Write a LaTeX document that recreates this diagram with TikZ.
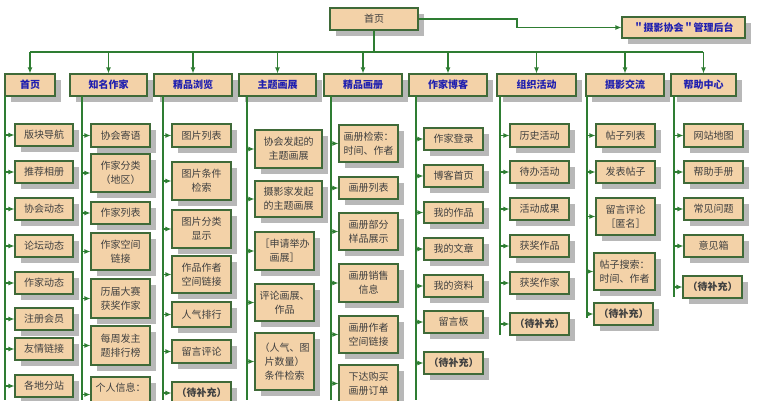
\documentclass[tikz,border=0pt]{standalone}
\usepackage{fontspec}
\setmainfont{Noto Sans CJK SC}
\usetikzlibrary{shadows,arrows.meta}
\definecolor{boxfill}{HTML}{F3D2A8}
\definecolor{boxline}{HTML}{3F6A38}
\definecolor{conn}{HTML}{2E7D32}
\definecolor{headtxt}{HTML}{1F1FB0}
\tikzset{
  kb/.style={draw=boxline,line width=1.1pt,fill=boxfill,align=center,inner sep=1pt,
    font=\fontsize{10}{14}\selectfont,text=black!75,
    drop shadow={shadow xshift=6pt,shadow yshift=-6pt,fill=black!28,opacity=1}},
  hb/.style={kb,font=\fontsize{10}{12}\selectfont\bfseries,text=headtxt},
  arr/.style={draw=conn,line width=1.1pt,-{Latex[length=6pt,width=5pt]}},
  ln/.style={draw=conn,line width=1.1pt}
}
\newcommand\kid[7]{%
  \node[kb,minimum width={(#4-#2)*1pt},minimum height={(#5-#3)*1pt}] (#1) at ({(#2+#4)/2},{(#3+#5)/2}) {#6};
  \coordinate (#1s) at (#7,{(#3+#5)/2});
  \draw[arr] (#1s) -- (#1.west);}
\newcommand\hd[6]{%
  \node[hb,minimum width={(#3-#2)*1pt},minimum height=22pt] (#1) at ({(#2+#3)/2},85) {#4};
  \coordinate (#1b) at ({(#2+#3)/2},52);
  \draw[arr] (#1b) -- (#1.north);
  \coordinate (#1t) at (#5,96);
  \coordinate (#1e) at (#5,#6);
  \draw[ln] (#1t) -- (#1e);}
\begin{document}
\begin{tikzpicture}[x=1pt,y=-1pt]
\useasboundingbox (0,0) rectangle (759,400);
\node[kb,minimum width=88pt,minimum height=22pt] (root) at (374,19) {首页};
\node[hb,minimum width=123pt,minimum height=21pt] (admin) at (683.5,27.5) {＂摄影协会＂管理后台};
\coordinate (r1) at (517,19); \coordinate (r2) at (517,27.5);
\draw[arr] (root.east) -- (r1) -- (r2) -- (admin.west);
\coordinate (busL) at (30,52); \coordinate (busR) at (703,52); \coordinate (busM) at (374,52);
\draw[ln] (busL) -- (busR);
\draw[ln] (root.south) -- (busM);
\hd{h1}{5}{55}{首页}{5}{400}
\hd{h2}{70}{147}{知名作家}{82}{400}
\hd{h3}{154}{232}{精品浏览}{163}{400}
\hd{h4}{239}{316}{主题画展}{247}{400}
\hd{h5}{324}{402}{精品画册}{331}{400}
\hd{h6}{409}{487}{作家博客}{416}{400}
\hd{h7}{497}{576}{组织活动}{500}{335}
\hd{h8}{586}{664}{摄影交流}{587}{318}
\hd{h9}{671}{736}{帮助中心}{674}{297}
% col1
\kid{a1}{15}{124}{73}{146}{版块导航}{5}
\kid{a2}{15}{161}{73}{183}{推荐相册}{5}
\kid{a3}{15}{198}{73}{220}{协会动态}{5}
\kid{a4}{15}{235}{73}{257}{论坛动态}{5}
\kid{a5}{15}{272}{73}{294}{作家动态}{5}
\kid{a6}{15}{308}{73}{330}{注册会员}{5}
\kid{a7}{15}{338}{73}{360}{友情链接}{5}
\kid{a8}{15}{375}{73}{397}{各地分站}{5}
% col2
\kid{b1}{91}{124}{150}{147}{协会寄语}{82}
\kid{b2}{91}{154}{150}{192}{作家分类\\（地区）}{82}
\kid{b3}{91}{202}{150}{224}{作家列表}{82}
\kid{b4}{91}{233}{150}{270}{作家空间\\链接}{82}
\kid{b5}{91}{279}{150}{318}{历届大赛\\获奖作家}{82}
\kid{b6}{91}{326}{150}{365}{每周发主\\题排行榜}{82}
\kid{b7}{91}{377}{150}{412}{个人信息：\\ }{82}
% col3
\kid{c1}{172}{124}{231}{147}{图片列表}{163}
\kid{c2}{172}{162}{231}{200}{图片条件\\检索}{163}
\kid{c3}{172}{210}{231}{248}{图片分类\\显示}{163}
\kid{c4}{172}{256}{231}{293}{作品作者\\空间链接}{163}
\kid{c5}{172}{302}{231}{327}{人气排行}{163}
\kid{c6}{172}{340}{231}{363}{留言评论}{163}
\kid{c7}{172}{382}{231}{404}{\bfseries（待补充）}{163}
% col4
\kid{d1}{255}{130}{322}{168}{协会发起的\\主题画展}{247}
\kid{d2}{255}{181}{322}{217}{摄影家发起\\的主题画展}{247}
\kid{d3}{255}{232}{314}{270}{［申请举办\\画展］}{247}
\kid{d4}{255}{284}{314}{321}{评论画展、\\作品}{247}
\kid{d5}{255}{333}{314}{390}{（人气、图\\片数量）\\条件检索}{247}
% col5
\kid{e1}{339}{125}{398}{162}{画册检索：\\时间、作者}{331}
\kid{e2}{339}{177}{398}{199}{画册列表}{331}
\kid{e3}{339}{213}{398}{250}{画册部分\\样品展示}{331}
\kid{e4}{339}{264}{398}{302}{画册销售\\信息}{331}
\kid{e5}{339}{316}{398}{353}{画册作者\\空间链接}{331}
\kid{e6}{339}{365}{398}{402}{下达购买\\画册订单}{331}
% col6
\kid{f1}{424}{128}{483}{150}{作家登录}{416}
\kid{f2}{424}{165}{483}{187}{博客首页}{416}
\kid{f3}{424}{202}{483}{223}{我的作品}{416}
\kid{f4}{424}{238}{483}{260}{我的文章}{416}
\kid{f5}{424}{275}{483}{297}{我的资料}{416}
\kid{f6}{424}{311}{483}{333}{留言板}{416}
\kid{f7}{424}{352}{483}{374}{\bfseries（待补充）}{416}
% col7
\kid{g1}{510}{124}{569}{147}{历史活动}{500}
\kid{g2}{510}{161}{569}{183}{待办活动}{500}
\kid{g3}{510}{198}{569}{220}{活动成果}{500}
\kid{g4}{510}{235}{569}{257}{获奖作品}{500}
\kid{g5}{510}{272}{569}{294}{获奖作家}{500}
\kid{g6}{510}{313}{569}{335}{\bfseries（待补充）}{500}
% col8
\kid{k1}{596}{124}{655}{147}{帖子列表}{587}
\kid{k2}{596}{161}{655}{183}{发表帖子}{587}
\kid{k3}{596}{198}{655}{235}{留言评论\\［匿名］}{587}
\kid{k4}{594}{253}{655}{290}{帖子搜索：\\时间、作者}{587}
\kid{k5}{594}{303}{653}{325}{\bfseries（待补充）}{587}
% col9
\kid{m1}{684}{124}{743}{147}{网站地图}{674}
\kid{m2}{684}{161}{743}{183}{帮助手册}{674}
\kid{m3}{684}{198}{743}{220}{常见问题}{674}
\kid{m4}{684}{235}{743}{257}{意见箱}{674}
\kid{m5}{683}{276}{742}{298}{\bfseries（待补充）}{674}
\end{tikzpicture}
\end{document}
